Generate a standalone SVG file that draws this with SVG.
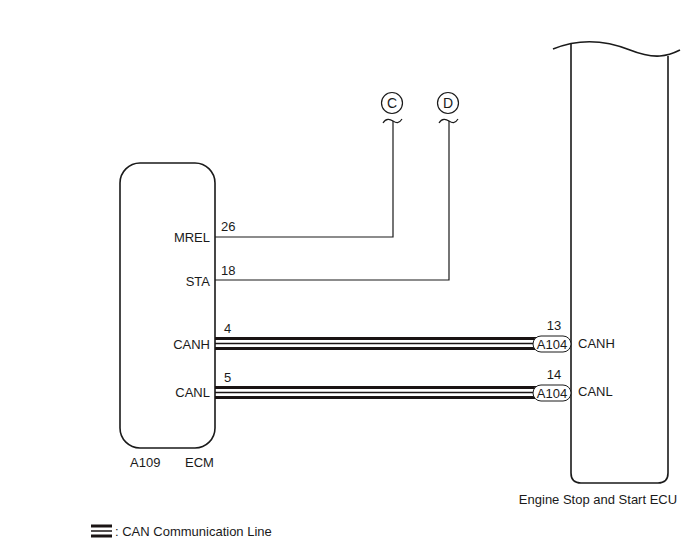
<svg xmlns="http://www.w3.org/2000/svg" width="688" height="560" viewBox="0 0 688 560">
<style>
text{font-family:"Liberation Sans",Arial,sans-serif;font-size:13px;fill:#1a1a1a}
.box{fill:none;stroke:#1a1a1a;stroke-width:1.6}
.w{fill:none;stroke:#1a1a1a;stroke-width:1.2}
.thick{stroke:#1a1414;stroke-width:3;fill:none}
.thin{stroke:#1a1414;stroke-width:1.5;fill:none}
.pill{fill:#fff;stroke:#1a1a1a;stroke-width:1}
.r{text-anchor:end}
.m{text-anchor:middle}
.big{font-size:14px}
</style>
<rect width="688" height="560" fill="#fff"/>
<g id="ecm">
<rect class="box" x="120" y="163" width="95" height="285" rx="20" ry="20"/>
<text class="r" x="210" y="242">MREL</text>
<text class="r" x="210" y="286">STA</text>
<text class="r" x="210" y="349">CANH</text>
<text class="r" x="210" y="397">CANL</text>
<text x="221" y="231">26</text>
<text x="221" y="275">18</text>
<text x="224" y="333">4</text>
<text x="224" y="382">5</text>
<text x="130" y="467">A109</text>
<text x="185" y="467">ECM</text>
</g>
<g id="ecu">
<path class="box" d="M553,49 C575,40 600,38 630,50 C655,60 668,56 680,50" stroke-width="1.4"/>
<path class="box" d="M571,43 V473 Q571,483 581,483 H658 Q668,483 668,473 V56"/>
<text x="578" y="348">CANH</text>
<text x="578" y="396">CANL</text>
<text class="m" x="598" y="504">Engine Stop and Start ECU</text>
</g>
<g id="connC">
<circle class="w" cx="392" cy="103" r="10.5"/>
<text class="m big" x="392" y="108">C</text>
<path class="w" d="M383,123 C386,118 390,119 393,121 S399,124 402,119" stroke-width="1.4"/>
</g>
<g id="connD">
<circle class="w" cx="448" cy="103" r="10.5"/>
<text class="m big" x="448" y="108">D</text>
<path class="w" d="M439,123 C442,118 446,119 449,121 S455,124 458,119" stroke-width="1.4"/>
</g>
<g id="connectors">
<path class="w" d="M215,237 H393 V121"/>
<path class="w" d="M215,280 H449 V121"/>
<line class="thick" x1="215" y1="338.5" x2="540" y2="338.5"/>
<line class="thin" x1="215" y1="343.5" x2="540" y2="343.5"/>
<line class="thick" x1="215" y1="348.5" x2="540" y2="348.5"/>
<line class="thick" x1="215" y1="387.5" x2="540" y2="387.5"/>
<line class="thin" x1="215" y1="392.5" x2="540" y2="392.5"/>
<line class="thick" x1="215" y1="397.5" x2="540" y2="397.5"/>
</g>
<g id="pinA104H">
<rect class="pill" x="533" y="336" width="38" height="16" rx="8"/>
<text class="m" x="552" y="349">A104</text>
<text class="m" x="554" y="330">13</text>
</g>
<g id="pinA104L">
<rect class="pill" x="533" y="385" width="38" height="16" rx="8"/>
<text class="m" x="552" y="398">A104</text>
<text class="m" x="554" y="379">14</text>
</g>
<g id="legend">
<line class="thick" x1="91" y1="526" x2="112" y2="526"/>
<line class="thin" x1="91" y1="531" x2="112" y2="531"/>
<line class="thick" x1="91" y1="536" x2="112" y2="536"/>
<text x="115" y="536">: CAN Communication Line</text>
</g>
</svg>
